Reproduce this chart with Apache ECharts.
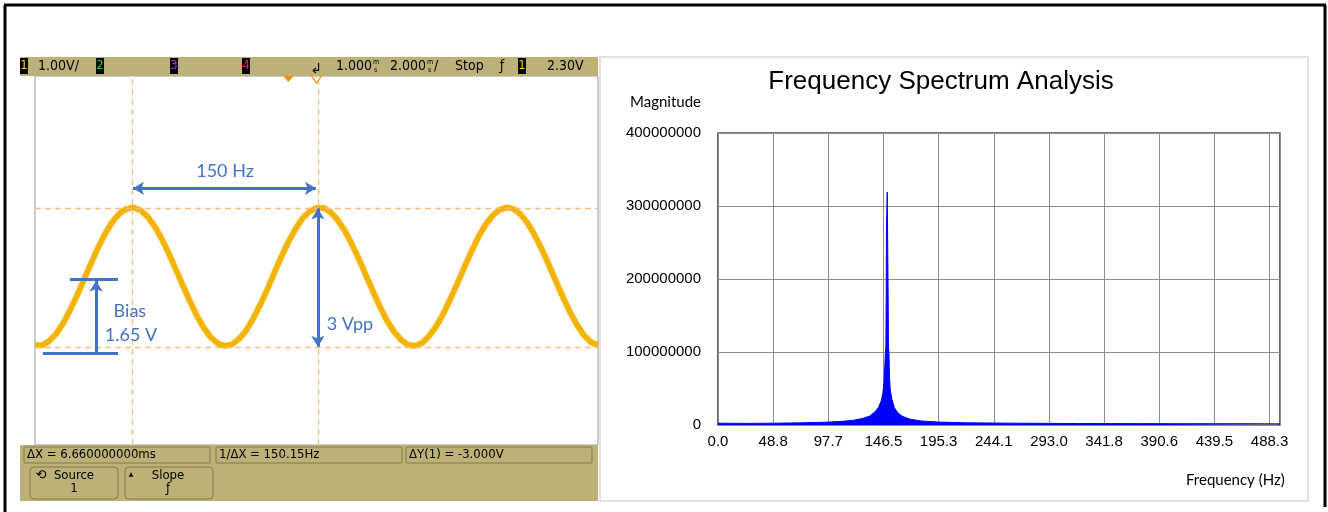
<!DOCTYPE html>
<html><head><meta charset="utf-8">
<script src="https://cdn.jsdelivr.net/npm/echarts@6/dist/echarts.min.js"></script>
<style>html,body{margin:0;padding:0;background:#fff}#c{width:1328px;height:512px}</style>
</head><body><div id="c"></div>
<script>
// ---- Oscilloscope trace, time in ms, volts ----
const scopeTimeMs = [0,0.25,0.5,0.75,1,1.25,1.5,1.75,2,2.25,2.5,2.75,3,3.25,3.5,3.75,4,4.25,4.5,4.75,5,5.25,5.5,5.75,6,6.25,6.5,6.75,7,7.25,7.5,7.75,8,8.25,8.5,8.75,9,9.25,9.5,9.75,10,10.25,10.5,10.75,11,11.25,11.5,11.75,12,12.25,12.5,12.75,13,13.25,13.5,13.75,14,14.25,14.5,14.75,15,15.25,15.5,15.75,16,16.25,16.5,16.75,17,17.25,17.5,17.75,18,18.25,18.5,18.75,19,19.25,19.5,19.75,20];
const scopeVolts  = [0.16,0.16,0.25,0.41,0.64,0.93,1.25,1.60,1.95,2.29,2.59,2.84,3.02,3.12,3.15,3.09,2.95,2.74,2.47,2.16,1.81,1.46,1.12,0.80,0.54,0.33,0.20,0.15,0.18,0.30,0.48,0.74,1.04,1.37,1.73,2.08,2.40,2.68,2.91,3.06,3.14,3.14,3.05,2.88,2.65,2.36,2.04,1.69,1.34,1.00,0.70,0.46,0.28,0.17,0.15,0.21,0.36,0.57,0.84,1.16,1.50,1.85,2.19,2.51,2.77,2.97,3.10,3.15,3.12,3.00,2.81,2.55,2.25,1.91,1.56,1.21,0.89,0.61,0.38,0.23,0.16];
const cursorTimesMs = [3.45, 10.05];
const cursorVolts = [3.13, 0.13];
const triggerLevelV = 2.30;
const triggerTimeMs = 9.0;
const delayRefMs = 10.0;
const periodArrowV = 3.565;
const biasV = 1.59;
const biasTimeMs = 2.17;
// ---- Spectrum ----
const spectrumFreqHz = [0,25,50,75,95,110,120,128,134,139,142,144.5,146,147.0,147.8,148.2,148.6,148.9,149.1,149.6,149.8,150.4,150.6,150.9,151.4,151.8,152.5,154,156,159,163,170,180,195,220,260,320,400,497.5];
const spectrumMag = [2.5e6,2.2e6,2.5e6,3.0e6,3.8e6,5e6,6.5e6,9e6,12e6,18e6,24e6,33e6,44e6,60e6,85e6,100e6,110e6,180e6,264e6,264e6,319e6,319e6,180e6,110e6,95e6,65e6,48e6,35e6,24e6,17e6,12e6,8e6,5.5e6,4e6,3e6,2.5e6,2e6,1.8e6,1.6e6];
const freqTickStep = 48.828125;
const freqMax = 497.5;
const magMax = 400000000;
const magStep = 100000000;

const scopeData = scopeTimeMs.map((t,i)=>[t, scopeVolts[i]]);
const specData = spectrumFreqHz.map((f,i)=>[f, spectrumMag[i]]);

const OLIVE = '#bcb277';
const BLUE = '#4472c4';
const CUR = '#f9bd82';
const SCOPE_FONT = '"Liberation Sans Narrow","DejaVu Sans Condensed","Liberation Sans",sans-serif';
const CAL = 'Lato, "Open Sans", sans-serif';
const ARIAL = '"Liberation Sans", Arial, sans-serif';

function txt(x,y,s,opt){opt=opt||{};return {type:'text',z:20,style:{x:x,y:y,text:s,fill:opt.fill||'#000',font:(opt.size||12)+'px '+(opt.family||SCOPE_FONT),align:opt.align||'left',verticalAlign:'middle'}};}
function chBox(x,n,color){return [{type:'rect',z:19,shape:{x:x,y:58,width:8,height:16},style:{fill:'#000'}},txt(x+4,66,n,{fill:color,align:'center',size:13})];}
function box(x,y,w,h,r){return {type:'rect',z:18,shape:{x:x,y:y,width:w,height:h,r:r||0},style:{fill:OLIVE,stroke:'#827a4c',lineWidth:1}};}

const graphics = [
  {type:'line',z:30,shape:{x1:4,y1:5,x2:1326,y2:5},style:{stroke:'#000',lineWidth:3}},
  {type:'line',z:30,shape:{x1:5,y1:5,x2:5,y2:512},style:{stroke:'#000',lineWidth:3}},
  {type:'line',z:30,shape:{x1:1325,y1:5,x2:1325,y2:507},style:{stroke:'#000',lineWidth:3}},
  {type:'rect',z:1,shape:{x:600,y:57,width:708,height:444},style:{fill:'none',stroke:'#d9d9d9',lineWidth:1.5}},
  {type:'rect',z:17,shape:{x:20,y:57,width:578,height:19},style:{fill:OLIVE}},
  ...chBox(20,'1','#f5d000'),
  txt(38,66,'1.00V/',{size:14}),
  ...chBox(96,'2','#20d020'),
  ...chBox(170,'3','#b030e0'),
  ...chBox(242,'4','#ff2060'),
  txt(316,69,'↲',{size:14,align:'center',family:'"DejaVu Sans",sans-serif'}),
  txt(336,66,'1.000',{size:14}),
  txt(373,62,'m',{size:7}), txt(374,70,'s',{size:7}),
  txt(390,66,'2.000',{size:14}),
  txt(427,62,'m',{size:7}), txt(428,70,'s',{size:7}),
  txt(434,66,'/',{size:14}),
  txt(455,66,'Stop',{size:14}),
  txt(502,66,'ƒ',{size:14,align:'center'}),
  ...chBox(518,'1','#f5d000'),
  txt(547,66,'2.30V',{size:14}),
  {type:'rect',z:17,shape:{x:20,y:445,width:578,height:56},style:{fill:OLIVE}},
  box(24,447,186,16,1), box(216,447,186,16,1), box(406,447,186,16,1),
  txt(27,455,'ΔX = 6.660000000ms',{size:13}),
  txt(219,455,'1/ΔX = 150.15Hz',{size:13}),
  txt(409,455,'ΔY(1) = -3.000V',{size:13}),
  box(30,467,88,32,4), box(125,467,88,32,4),
  txt(41,476,'⟲',{size:13,align:'center',family:'"DejaVu Sans",sans-serif'}),
  txt(74,476,'Source',{size:13,align:'center'}),
  txt(74,489,'1',{size:13,align:'center'}),
  txt(131,474,'▲',{size:6,align:'center',family:'"DejaVu Sans",sans-serif'}),
  txt(168,476,'Slope',{size:13,align:'center'}),
  txt(168,489,'ƒ',{size:13,align:'center'})
];

function arrow(p1,p2,s1,s2){
  return [{coord:p1,symbol:s1,symbolSize:[10,11],lineStyle:{color:BLUE,width:3,type:'solid',opacity:1}},{coord:p2,symbol:s2,symbolSize:[10,11]}];
}
function note(t,v,s){return {coord:[t,v],symbol:'rect',symbolSize:0,label:{show:true,position:'inside',formatter:s,color:BLUE,fontSize:18,fontFamily:CAL}};}

const option = {
  animation:false,
  backgroundColor:'#fff',
  title:[
    {text:'Frequency Spectrum Analysis',left:936,top:64,textAlign:'center',textStyle:{fontFamily:ARIAL,fontSize:26,fontWeight:'normal',color:'#000'}},
    {text:'Magnitude',left:625,top:90,textStyle:{fontFamily:CAL,fontSize:15,fontWeight:'normal',color:'#000'}},
    {text:'Frequency (Hz)',left:1181,top:468,textStyle:{fontFamily:CAL,fontSize:15,fontWeight:'normal',color:'#000'}}
  ],
  graphic:{elements:graphics},
  grid:[
    {left:35,top:76,width:563,height:369,show:true,backgroundColor:'#fff',borderColor:'#9a9a9a',borderWidth:1},
    {left:718,top:133,width:562,height:292,show:true,borderColor:'#000',borderWidth:1.2}
  ],
  xAxis:[
    {gridIndex:0,type:'value',min:0,max:20,show:false},
    {gridIndex:1,type:'value',min:0,max:freqMax,interval:freqTickStep,
     axisLine:{show:false},axisTick:{show:false},
     axisLabel:{margin:9,showMaxLabel:false,color:'#000',fontSize:15,fontFamily:ARIAL,formatter:v=>v.toFixed(1)},
     splitLine:{show:true,lineStyle:{color:'#8c8c8c',width:1}}}
  ],
  yAxis:[
    {gridIndex:0,type:'value',min:-2,max:6,show:false},
    {gridIndex:1,type:'value',min:0,max:magMax,interval:magStep,
     axisLine:{show:false},axisTick:{show:false},
     axisLabel:{margin:17,color:'#000',fontSize:15,fontFamily:ARIAL,formatter:v=>String(v)},
     splitLine:{show:true,lineStyle:{color:'#8c8c8c',width:1}}}
  ],
  series:[
    {
      name:'trace',type:'line',xAxisIndex:0,yAxisIndex:0,data:scopeData,smooth:false,showSymbol:false,
      lineStyle:{color:'#f2b400',width:5.5,shadowColor:'rgba(230,160,0,0.6)',shadowBlur:2},z:3,
      markLine:{silent:true,symbol:'none',animation:false,label:{show:false},
        lineStyle:{color:CUR,type:[6,4],width:1.3},
        data:[
          {xAxis:cursorTimesMs[0]},{xAxis:cursorTimesMs[1]},
          {yAxis:cursorVolts[0]},{yAxis:cursorVolts[1]},
          {yAxis:triggerLevelV,lineStyle:{opacity:0},label:{show:true,position:'start',formatter:'T▸',color:'#f0b400',fontSize:10,distance:1}},
          {yAxis:0,lineStyle:{opacity:0},label:{show:true,position:'start',formatter:'1▸',color:'#f0b400',fontSize:10,distance:1}},
          arrow([cursorTimesMs[0]+0.03,periodArrowV],[cursorTimesMs[1]-0.07,periodArrowV],'arrow','arrow'),
          arrow([cursorTimesMs[1],cursorVolts[0]],[cursorTimesMs[1],cursorVolts[1]],'arrow','arrow'),
          arrow([biasTimeMs,0],[biasTimeMs,biasV-0.03],'none','arrow'),
          arrow([1.24,biasV],[2.95,biasV],'none','none'),
          arrow([0.28,0],[2.95,0],'none','none')
        ]},
      markPoint:{silent:true,animation:false,
        data:[
          note(6.75,3.93,'150 Hz'),
          note(11.19,0.63,'3 Vpp'),
          note(3.37,0.91,'Bias'),
          note(3.41,0.39,'1.65 V'),
          {coord:[triggerTimeMs,6],symbol:'triangle',symbolRotate:180,symbolSize:[10,6],symbolOffset:[0,3],itemStyle:{color:'#f08a00'},label:{show:false}},
          {coord:[delayRefMs,6],symbol:'triangle',symbolRotate:180,symbolSize:[10,7],symbolOffset:[0,3.5],itemStyle:{color:'#fff',borderColor:'#f08a00',borderWidth:1},label:{show:false}}
        ]}
    },
    {
      name:'spectrum',type:'line',xAxisIndex:1,yAxisIndex:1,data:specData,showSymbol:false,
      lineStyle:{color:'#0000ff',width:1},areaStyle:{color:'#0000ff',opacity:1},z:3
    }
  ]
};
echarts.init(document.getElementById('c')).setOption(option);
</script></body></html>
